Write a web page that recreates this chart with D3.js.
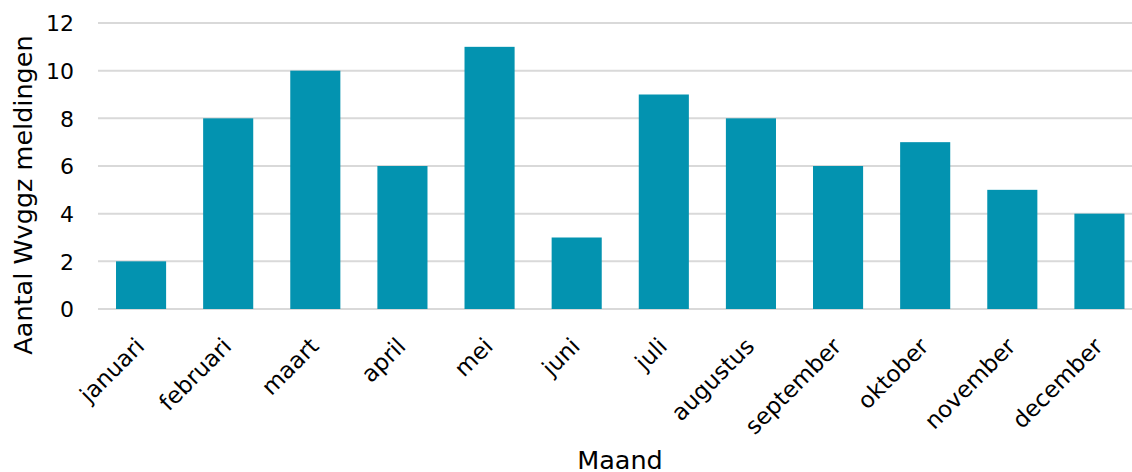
<!DOCTYPE html>
<meta charset="utf-8">
<style>
body{ margin:0; background:#fff; }
text{ font-family:"DejaVu Sans", Verdana, sans-serif; fill:#000; }
.ytick text{ font-size:22px; }
.xtick text{ font-size:23px; }
.grid line{ stroke:#d9d9d9; stroke-width:2px; }
.title{ font-size:25.5px; text-anchor:middle; }
</style>
<body>
<script src="https://cdnjs.cloudflare.com/ajax/libs/d3/7.8.5/d3.min.js"></script>
<script>

var months = ["januari","februari","maart","april","mei","juni","juli","augustus","september","oktober","november","december"];
var counts = [2,8,10,6,11,3,9,8,6,7,5,4];
var yTicks = [0,2,4,6,8,10,12];

var W = 1132, H = 472;
var mLeft = 98, mTop = 23, mBottom = 309;

var svg = d3.select("body").append("svg").attr("width",W).attr("height",H);

var x = d3.scaleBand().domain(months).range([97.5,1143]).paddingInner(0.425).paddingOuter(0.2125);
var y = d3.scaleLinear().domain([0,12]).range([mBottom,mTop]);

// gridlines
svg.append("g").attr("class","grid")
	.selectAll("line").data(yTicks).join("line")
	.attr("x1",mLeft).attr("x2",W)
	.attr("y1",d=>y(d)).attr("y2",d=>y(d));

// bars
svg.append("g").selectAll("rect").data(counts).join("rect")
	.attr("x",(d,i)=>x(months[i]))
	.attr("width",x.bandwidth())
	.attr("y",d=>y(d))
	.attr("height",d=>y(0)-y(d))
	.attr("fill","#0393b0");

// y axis labels
var ya = svg.append("g").attr("class","ytick").attr("transform","translate("+mLeft+",0)")
	.call(d3.axisLeft(y).tickValues(yTicks).tickSize(0).tickPadding(24));
ya.select(".domain").remove();
ya.selectAll("text").attr("dy","0.35em");

// x axis labels
var xa = svg.append("g").attr("class","xtick").attr("transform","translate(0,"+mBottom+")")
	.call(d3.axisBottom(x).tickSize(0));
xa.select(".domain").remove();
xa.selectAll("text")
	.attr("text-anchor","end")
	.attr("dy","0.35em")
	.attr("y",0)
	.attr("transform","translate(-1,33) rotate(-45)");

svg.append("text").attr("class","title")
	.attr("x",620).attr("y",469).text("Maand");

svg.append("text").attr("class","title")
	.attr("transform","translate(32,195) rotate(-90)")
	.text("Aantal Wvggz meldingen");

</script>
</body>
